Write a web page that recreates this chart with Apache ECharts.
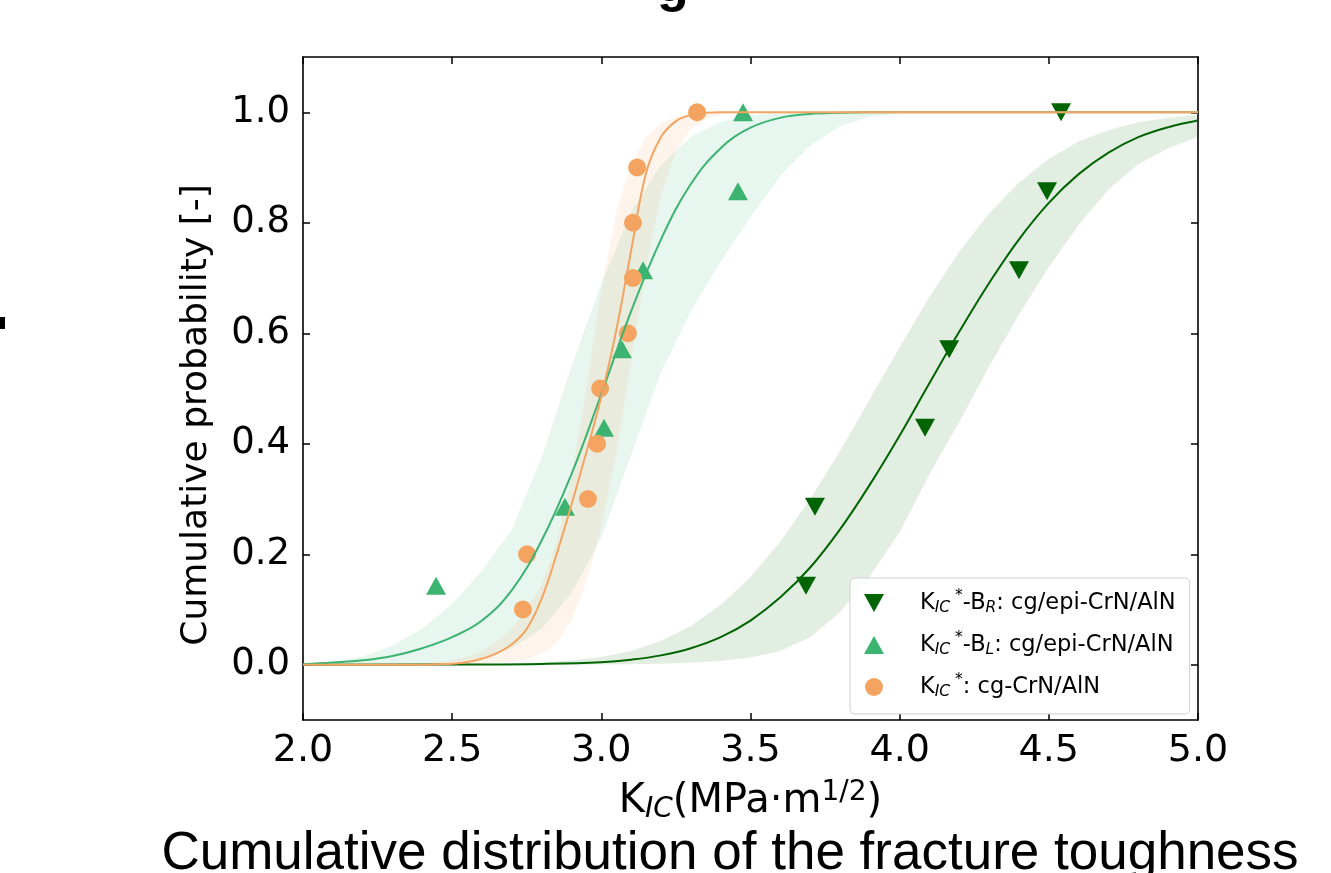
<!DOCTYPE html>
<html>
<head>
<meta charset="utf-8">
<script src="https://cdn.jsdelivr.net/npm/echarts@6/dist/echarts.min.js"></script>
<style>
  html, body { margin: 0; padding: 0; background: #fff; }
  #chart { width: 1331px; height: 873px; }
</style>
</head>
<body>
<div id="chart"></div>
<script>
// Axis ticks
const xTicks = [2.0, 2.5, 3.0, 3.5, 4.0, 4.5, 5.0];
const yTicks = [0.0, 0.2, 0.4, 0.6, 0.8, 1.0];

// Measured K_IC values and their cumulative probabilities
const brK = [3.686, 3.716, 4.085, 4.166, 4.400, 4.494, 4.541];
const brP = [0.143, 0.286, 0.429, 0.571, 0.714, 0.857, 1.0];
const blK = [2.446, 2.878, 3.009, 3.069, 3.140, 3.458, 3.475];
const blP = [0.143, 0.286, 0.429, 0.571, 0.714, 0.857, 1.0];
const cgK = [2.737, 2.751, 2.955, 2.986, 2.996, 3.089, 3.106, 3.106, 3.120, 3.321];
const cgP = [0.1, 0.2, 0.3, 0.4, 0.5, 0.6, 0.7, 0.8, 0.9, 1.0];

// Fitted distribution curves
const brFitK = [2.0, 2.6, 2.8, 3.0, 3.1, 3.2, 3.3, 3.4, 3.5, 3.6, 3.7, 3.8, 3.9, 4.0, 4.1, 4.2, 4.3, 4.4, 4.5, 4.6, 4.7, 4.8, 4.9, 5.0];
const brFitP = [0, 0.0005, 0.0015, 0.0047, 0.0092, 0.017, 0.030, 0.050, 0.080, 0.122, 0.176, 0.245, 0.326, 0.415, 0.510, 0.603, 0.691, 0.770, 0.836, 0.888, 0.927, 0.955, 0.973, 0.985];
const blFitK = [2.0, 2.1, 2.2, 2.3, 2.4, 2.5, 2.6, 2.7, 2.8, 2.9, 3.0, 3.1, 3.2, 3.3, 3.4, 3.5, 3.6, 3.7, 3.8, 3.9, 4.0, 5.0];
const blFitP = [0.001, 0.004, 0.008, 0.016, 0.03, 0.05, 0.08, 0.135, 0.225, 0.345, 0.49, 0.64, 0.77, 0.87, 0.935, 0.972, 0.99, 0.997, 0.999, 1, 1, 1];
const cgFitK = [2.0, 2.4, 2.45, 2.5, 2.55, 2.6, 2.65, 2.7, 2.75, 2.8, 2.85, 2.9, 2.95, 3.0, 3.05, 3.1, 3.15, 3.2, 3.25, 3.3, 3.35, 3.4, 3.5, 5.0];
const cgFitP = [0, 0, 0.001, 0.002, 0.005, 0.011, 0.021, 0.037, 0.065, 0.12, 0.20, 0.29, 0.385, 0.485, 0.605, 0.75, 0.89, 0.955, 0.984, 0.995, 0.999, 1, 1, 1];

// Confidence bands (upper / lower bound of the fit)
const brBandK = [2.6, 2.7, 2.8, 2.9, 3.0, 3.1, 3.2, 3.3, 3.4, 3.5, 3.6, 3.7, 3.8, 3.9, 4.0, 4.1, 4.2, 4.3, 4.4, 4.5, 4.6, 4.7, 4.8, 4.9, 5.0];
const brBandHi = [0.001, 0.002, 0.004, 0.008, 0.014, 0.025, 0.043, 0.070, 0.108, 0.159, 0.223, 0.300, 0.387, 0.481, 0.575, 0.666, 0.748, 0.817, 0.873, 0.916, 0.947, 0.968, 0.982, 0.990, 0.995];
const brBandLo = [0, 0, 0, 0, 0.0005, 0.001, 0.002, 0.004, 0.007, 0.013, 0.025, 0.05, 0.095, 0.16, 0.24, 0.345, 0.44, 0.54, 0.634, 0.72, 0.796, 0.86, 0.906, 0.935, 0.955];
const blBandK = [2.0, 2.1, 2.2, 2.3, 2.4, 2.5, 2.6, 2.7, 2.8, 2.9, 3.0, 3.1, 3.2, 3.3, 3.4, 3.5, 3.6, 3.7, 3.8, 3.9, 4.0, 4.1];
const blBandHi = [0.002, 0.006, 0.015, 0.035, 0.065, 0.11, 0.17, 0.245, 0.375, 0.54, 0.69, 0.82, 0.905, 0.955, 0.983, 0.995, 0.999, 1, 1, 1, 1, 1];
const blBandLo = [0, 0, 0, 0, 0.001, 0.004, 0.012, 0.03, 0.065, 0.13, 0.23, 0.38, 0.53, 0.64, 0.73, 0.81, 0.885, 0.94, 0.975, 0.992, 0.998, 1];
const cgBandK = [2.40, 2.45, 2.50, 2.55, 2.60, 2.65, 2.70, 2.75, 2.80, 2.85, 2.90, 2.95, 3.00, 3.05, 3.10, 3.15, 3.20, 3.25, 3.30, 3.35, 3.40, 3.45, 3.50];
const cgBandHi = [0.002, 0.004, 0.008, 0.014, 0.025, 0.042, 0.065, 0.10, 0.145, 0.22, 0.34, 0.50, 0.68, 0.82, 0.905, 0.955, 0.98, 0.992, 0.997, 1, 1, 1, 1];
const cgBandLo = [0, 0, 0, 0.001, 0.002, 0.004, 0.006, 0.01, 0.02, 0.04, 0.08, 0.15, 0.25, 0.38, 0.55, 0.72, 0.85, 0.93, 0.97, 0.988, 0.996, 0.999, 1];

const seriesNames = ['KIC*-BR: cg/epi-CrN/AlN', 'KIC*-BL: cg/epi-CrN/AlN', 'KIC*: cg-CrN/AlN'];
const legendRich = {
  'KIC*-BR: cg/epi-CrN/AlN': '{gap|}K{sub|IC}{sup| *}-B{sub|R}: cg/epi-CrN/AlN',
  'KIC*-BL: cg/epi-CrN/AlN': '{gap|}K{sub|IC}{sup| *}-B{sub|L}: cg/epi-CrN/AlN',
  'KIC*: cg-CrN/AlN': '{gap|}K{sub|IC}{sup| *}: cg-CrN/AlN'
};

const DARK = '#006400', MID = '#3CB371', ORANGE = '#F4A460';
const FONT = 'DejaVu Sans';

function pairs(xs, ys) { return xs.map((x, i) => [x, ys[i]]); }

// Shaded band between a lower and an upper curve, drawn as one polygon
function band(xs, lo, hi, fill) {
  return {
    type: 'custom',
    coordinateSystem: 'cartesian2d',
    silent: true,
    z: 1,
    data: xs.map((x, i) => [x, lo[i], hi[i]]),
    encode: { x: 0, y: [1, 2] },
    renderItem: function (params, api) {
      if (params.dataIndex !== 0) return null;
      const upper = xs.map((x, i) => api.coord([x, hi[i]]));
      const lower = xs.map((x, i) => api.coord([x, lo[i]])).reverse();
      return { type: 'polygon', shape: { points: upper.concat(lower) }, style: { fill: fill } };
    }
  };
}

function fitLine(xs, ys, color) {
  return {
    type: 'line', data: pairs(xs, ys), showSymbol: false, symbol: 'none', silent: true,
    smooth: 0.4, z: 4, lineStyle: { color: color, width: 2 }
  };
}

function points(name, xs, ys, color, symbol, size, rotate) {
  return {
    name: name, type: 'scatter', data: pairs(xs, ys), z: 3,
    symbol: symbol, symbolSize: size, symbolRotate: rotate || 0, symbolKeepAspect: true,
    itemStyle: { color: color, opacity: 1 }
  };
}

const tickStyle = { show: true, inside: true, length: 7, lineStyle: { color: '#000', width: 1.5 } };
const lineStyleAxis = { show: true, onZero: false, lineStyle: { color: '#000', width: 1.6 } };

const chart = echarts.init(document.getElementById('chart'), null, { renderer: 'canvas' });
chart.setOption({
  backgroundColor: '#fff',
  animation: false,
  grid: { left: 303, right: 133, top: 57, bottom: 153, outerBoundsMode: 'none', containLabel: false },
  xAxis: [
    {
      type: 'value', min: 2.0, max: 5.0, position: 'bottom',
      axisLine: lineStyleAxis, splitLine: { show: false },
      axisTick: Object.assign({ customValues: xTicks }, tickStyle),
      axisLabel: { customValues: xTicks, formatter: v => v.toFixed(1), fontFamily: FONT, fontSize: 38, color: '#000', margin: 12 },
      name: '{m|K}{sub|IC}{m|(MPa·m}{sup|1/2}{m|)}',
      nameLocation: 'middle', nameGap: 60,
      nameTextStyle: {
        color: '#000', fontFamily: FONT, fontSize: 40,
        rich: {
          m: { fontFamily: FONT, fontSize: 40, lineHeight: 44, color: '#000' },
          sub: { fontFamily: FONT, fontSize: 28, fontStyle: 'italic', lineHeight: 28, padding: [16, 0, 0, 0], color: '#000' },
          sup: { fontFamily: FONT, fontSize: 28, lineHeight: 28, padding: [0, 0, 18, 0], color: '#000' }
        }
      }
    },
    {
      type: 'value', min: 2.0, max: 5.0, position: 'top',
      axisLine: lineStyleAxis, splitLine: { show: false },
      axisTick: Object.assign({ customValues: xTicks }, tickStyle),
      axisLabel: { show: false }
    }
  ],
  yAxis: [
    {
      type: 'value', min: -0.1, max: 1.1, position: 'left',
      axisLine: lineStyleAxis, splitLine: { show: false },
      axisTick: Object.assign({ customValues: yTicks }, tickStyle),
      axisLabel: { customValues: yTicks, formatter: v => v.toFixed(1), fontFamily: FONT, fontSize: 37, color: '#000', margin: 13 }
    },
    {
      type: 'value', min: -0.1, max: 1.1, position: 'right',
      axisLine: lineStyleAxis, splitLine: { show: false },
      axisTick: Object.assign({ customValues: yTicks }, tickStyle),
      axisLabel: { show: false }
    }
  ],
  legend: {
    data: [
      { name: seriesNames[0], icon: 'path://M0,0L20,0L10,18Z' },
      { name: seriesNames[1], icon: 'path://M10,0L20,18L0,18Z' },
      { name: seriesNames[2], icon: 'circle' }
    ],
    orient: 'vertical', left: 850, top: 578,
    padding: [10, 14, 12, 14], itemGap: 12,
    itemWidth: 28, itemHeight: 18, symbolKeepAspect: true,
    backgroundColor: 'rgba(255,255,255,0.85)', borderColor: '#cfcfcf', borderWidth: 1, borderRadius: 5,
    formatter: name => legendRich[name],
    textStyle: {
      fontFamily: FONT, fontSize: 22.5, color: '#000', lineHeight: 28,
      rich: {
        gap: { width: 27 },
        sub: { fontFamily: FONT, fontSize: 15.5, fontStyle: 'italic', lineHeight: 16, padding: [10, 0, 0, 0], color: '#000' },
        sup: { fontFamily: FONT, fontSize: 15.5, lineHeight: 16, padding: [0, 0, 14, 0], color: '#000' }
      }
    }
  },
  graphic: [
    { type: 'text', x: 197, y: 415, rotation: Math.PI / 2, silent: true,
      style: { text: 'Cumulative probability [-]', fill: '#000', font: '36px "DejaVu Sans"',
               textAlign: 'center', textVerticalAlign: 'middle' } },
    { type: 'text', x: 730, y: 854, silent: true,
      style: { text: 'Cumulative distribution of the fracture toughness', fill: '#000',
               font: '53px "Liberation Sans", Arial, sans-serif', textAlign: 'center', textVerticalAlign: 'middle' } },
    { type: 'text', x: 673, y: -13, silent: true,
      style: { text: 'g', fill: '#000', font: 'bold 52px "Liberation Sans", Arial, sans-serif', textAlign: 'center', textVerticalAlign: 'middle' } },
    { type: 'rect', shape: { x: 0, y: 317, width: 5, height: 12 }, silent: true, style: { fill: '#000' } }
  ],
  series: [
    band(brBandK, brBandLo, brBandHi, 'rgba(0,100,0,0.11)'),
    band(blBandK, blBandLo, blBandHi, 'rgba(60,179,113,0.12)'),
    band(cgBandK, cgBandLo, cgBandHi, 'rgba(244,164,96,0.12)'),
    points(seriesNames[0], brK, brP, DARK, 'triangle', [20, 18], 180),
    points(seriesNames[1], blK, blP, MID, 'triangle', [20, 18], 0),
    points(seriesNames[2], cgK, cgP, ORANGE, 'circle', 18, 0),
    fitLine(brFitK, brFitP, DARK),
    fitLine(blFitK, blFitP, MID),
    fitLine(cgFitK, cgFitP, ORANGE)
  ]
});
</script>
</body>
</html>
